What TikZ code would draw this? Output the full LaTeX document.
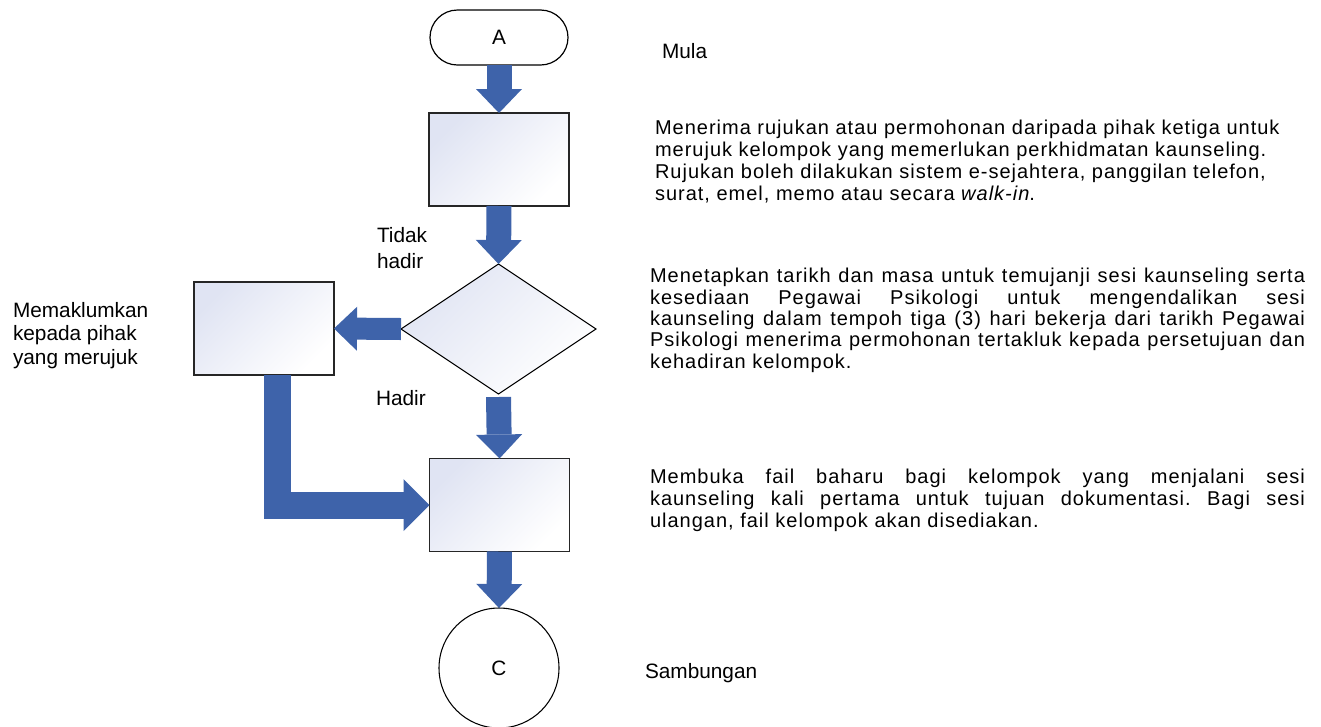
\documentclass[tikz,border=0pt]{standalone}
\usepackage{fontspec}
\setmainfont{Liberation Sans}
\newfontfamily\descfont{Liberation Sans}[LetterSpace=5]
\usetikzlibrary{shapes.geometric,arrows.meta,calc}
\definecolor{arrowblue}{RGB}{62,99,170}
\definecolor{boxtint}{RGB}{224,228,243}
\frenchspacing
\begin{document}
\begin{tikzpicture}[x=0.75pt,y=-0.75pt,
  procbox/.style={draw=black!85, line width=1pt, minimum width=105pt, minimum height=69.75pt,
    inner sep=0pt, outer sep=0pt, top color=boxtint, bottom color=white, shading angle=45},
  decbox/.style={diamond, draw=black, line width=0.8pt, minimum width=146.25pt, minimum height=97.5pt,
    inner sep=0pt, outer sep=0pt, top color=boxtint, bottom color=white, shading angle=45},
  termbox/.style={draw=black, line width=0.9pt, minimum width=103.5pt, minimum height=41.25pt,
    rounded corners=20.6pt, inner sep=0pt, outer sep=0pt, font=\fontsize{15.6pt}{17pt}\selectfont},
  connbox/.style={circle, draw=black, line width=0.8pt, minimum size=90pt, inner sep=0pt, outer sep=0pt,
    font=\fontsize{15.6pt}{17pt}\selectfont},
  vblock/.style={draw=arrowblue, line width=18.75pt, line cap=butt,
    -{Triangle[width=34.5pt,length=18pt,line width=0pt]}},
  hblock/.style={draw=arrowblue, line width=16.5pt, line cap=butt,
    -{Triangle[width=33pt,length=17.25pt,line width=0pt]}},
  lblock/.style={draw=arrowblue, line width=20.25pt, line cap=butt, line join=miter,
    -{Triangle[width=39pt,length=19.5pt,line width=0pt]}},
  lbl/.style={inner sep=0pt, outer sep=0pt, anchor=base west, align=left,
    font=\fontsize{15.6pt}{17.6pt}\selectfont},
  lbltall/.style={lbl, font=\fontsize{15.6pt}{19.5pt}\selectfont},
  desca/.style={inner sep=0pt, outer sep=0pt, anchor=base west, align=left,
    font=\descfont\fontsize{15pt}{16.5pt}\selectfont},
  descb/.style={desca, font=\descfont\fontsize{15pt}{16pt}\selectfont}
]
\useasboundingbox (0,0) rectangle (1321,726);

% shapes
\node[termbox] (A) at (499,37.5) {A};
\node[procbox] (b1) at (499,159.5) {};
\node[decbox] (d) at (498.5,329) {};
\node[procbox] (b2) at (264,328.5) {};
\node[procbox] (b3) at (499.5,505) {};
\node[connbox] (C) at (499,668) {C};

% connectors
\draw[vblock] (A.south) -- (b1.north);
\draw[vblock] (b1.south) -- (d.north);
\draw[hblock] (d.west) -- (b2.east);
\draw[vblock] ($(d.south)+(0,3)$) -- (b3.north);
\draw[lblock] ($(b2.south)+(13.5,0)$) |- (b3.west);
\draw[vblock] (b3.south) -- (C.north);

% labels (anchor = baseline of last line)
\node[lbltall] (tidak) at (377,268) {Tidak\\hadir};
\node[lbl] (hadir) at (376,405) {Hadir};
\node[lbl] (maklum) at (13,364) {Memaklumkan\\kepada pihak\\yang merujuk};
\node[lbl] (mula) at (662,58) {Mula};
\node[lbl] (samb) at (645,678) {Sambungan};

% descriptions
\node[desca] (t1) at (655,200) {%
  Menerima rujukan atau permohonan daripada pihak ketiga untuk\\
  merujuk kelompok yang memerlukan perkhidmatan kaunseling.\\
  Rujukan boleh dilakukan sistem e-sejahtera, panggilan telefon,\\
  surat, emel, memo atau secara \textit{walk-in}.};
\node[descb] (t2) at (650,368) {%
  \hbox to 491.25pt{Menetapkan tarikh dan masa untuk temujanji sesi kaunseling serta}\\
  \hbox to 491.25pt{kesediaan Pegawai Psikologi untuk mengendalikan sesi}\\
  \hbox to 491.25pt{kaunseling dalam tempoh tiga (3) hari bekerja dari tarikh Pegawai}\\
  \hbox to 491.25pt{Psikologi menerima permohonan tertakluk kepada persetujuan dan}\\
  kehadiran kelompok.};
\node[desca] (t3) at (650,527) {%
  \hbox to 491.25pt{Membuka fail baharu bagi kelompok yang menjalani sesi}\\
  \hbox to 491.25pt{kaunseling kali pertama untuk tujuan dokumentasi. Bagi sesi}\\
  ulangan, fail kelompok akan disediakan.};
\end{tikzpicture}
\end{document}
